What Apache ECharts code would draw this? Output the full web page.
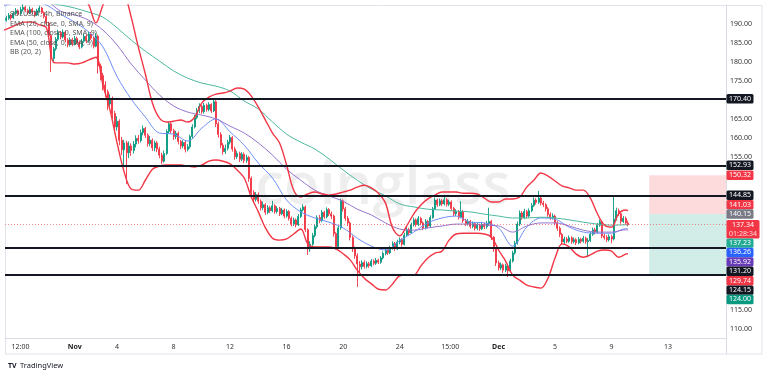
<!DOCTYPE html>
<html><head><meta charset="utf-8">
<script src="https://cdn.jsdelivr.net/npm/echarts@6/dist/echarts.min.js"></script>
<style>html,body{margin:0;padding:0;background:#fff}#c{width:768px;height:374px}</style>
</head><body><div id="c"></div>
<script>
// ---------------- DATA ----------------
const legendLines = ['SOLUSDT, 4h, Binance','EMA (20, close, 0, SMA, 9)','EMA (100, close, 0, SMA, 9)','EMA (50, close, 0, SMA, 9)','BB (20, 2)'];
// 4h bars, bar 0 = Nov 1 00:00
const firstBar = -29;
const lastBar = 235;
// [open, close, low, high]
const candles = [
[191.0,191.5,190.6,192.2],[191.5,192.3,191.1,192.9],[192.3,191.6,191.0,192.7],[191.6,192.8,191.3,193.4],[192.8,193.5,192.4,194.2],
[193.5,192.7,192.2,193.9],[192.7,193.8,192.5,194.5],[193.8,194.4,193.3,195.2],[194.4,193.6,193.1,194.8],[193.6,192.9,192.4,194.0],
[192.9,193.9,192.6,194.6],[193.9,193.1,192.7,194.3],[193.1,192.4,191.8,193.5],[192.4,193.5,192.1,194.0],[193.5,194.2,193.0,194.8],
[194.2,193.0,192.6,194.5],[193.0,192.0,191.5,193.3],[192.0,190.2,189.6,192.4],[190.2,187.0,186.4,190.6],[187.0,181.0,177.4,187.4],
[181.0,183.5,180.2,184.0],[183.5,186.0,183.0,186.6],[186.0,187.8,185.5,188.5],[187.8,186.6,186.0,188.2],[186.6,187.9,186.2,188.6],
[187.9,185.8,185.2,188.2],[185.8,184.6,183.9,186.3],[184.6,185.9,184.1,186.5],[185.9,184.8,184.2,186.4],[184.8,186.2,184.4,186.9],
[186.2,185.2,184.7,186.7],[185.2,184.0,183.4,185.7],[184.0,185.5,183.6,186.1],[185.5,186.8,185.1,187.5],[186.8,185.6,185.0,187.2],
[185.6,187.4,185.2,188.0],[187.4,186.3,185.8,187.9],[186.3,184.2,183.6,186.7],[184.2,186.8,183.9,187.6],[186.8,179.0,177.0,187.2],
[179.0,176.5,175.2,179.6],[176.5,174.0,172.6,177.2],[174.0,172.2,170.8,175.0],[172.2,169.0,167.4,172.8],[169.0,170.5,168.2,171.6],
[170.5,166.5,165.0,171.0],[166.5,163.0,161.5,167.2],[163.0,164.5,162.0,165.8],[164.5,159.5,158.2,165.0],[159.5,157.0,155.6,160.4],
[157.0,158.8,153.0,159.6],[158.8,156.2,148.0,159.4],[156.2,158.0,154.8,159.2],[158.0,156.8,155.4,158.7],[156.8,158.5,156.0,159.3],
[158.5,160.0,157.6,160.8],[160.0,159.4,158.6,160.9],[159.4,161.5,158.9,162.3],[161.5,162.6,160.8,163.4],[162.6,160.8,160.1,163.0],
[160.8,158.6,157.8,161.3],[158.6,159.5,157.9,160.6],[159.5,157.5,156.7,160.0],[157.5,158.8,156.6,159.4],[158.8,157.2,156.4,159.3],
[157.2,155.6,154.8,157.8],[155.6,154.0,153.2,156.2],[154.0,156.0,153.6,156.8],[156.0,161.8,155.6,162.4],[161.8,163.8,161.2,164.4],
[163.8,162.0,161.4,164.2],[162.0,160.5,159.6,162.5],[160.5,161.3,159.8,162.0],[161.3,159.2,158.4,161.8],[159.2,158.0,157.2,159.6],
[158.0,158.9,157.4,159.5],[158.9,157.1,156.3,159.3],[157.1,157.8,156.6,158.5],[157.8,160.5,157.3,161.0],[160.5,163.0,160.0,163.7],
[163.0,165.5,162.6,166.2],[165.5,167.3,165.0,168.0],[167.3,168.4,166.6,169.2],[168.4,167.0,166.4,168.8],[167.0,168.7,166.5,169.3],
[168.7,167.6,167.0,169.1],[167.6,168.9,167.1,169.5],[168.9,167.2,166.7,169.2],[167.2,169.6,166.9,170.3],[169.6,163.8,163.0,170.0],
[163.8,161.0,160.2,164.4],[161.0,158.2,157.4,161.6],[158.2,156.5,155.7,158.8],[156.5,157.4,155.9,158.4],[157.4,159.0,156.8,159.6],
[159.0,160.2,158.4,160.9],[160.2,157.2,156.5,160.6],[157.2,155.2,154.4,157.8],[155.2,156.0,154.6,156.7],[156.0,154.5,153.8,156.5],
[154.5,155.8,154.0,156.4],[155.8,154.2,153.5,156.3],[154.2,155.0,153.6,155.7],[155.0,149.5,148.6,155.4],[149.5,145.8,144.9,150.0],
[145.8,144.0,143.2,146.4],[144.0,145.2,143.4,145.9],[145.2,143.5,142.8,145.8],[143.5,141.8,141.0,144.0],[141.8,142.6,141.2,143.4],
[142.6,140.6,139.9,143.0],[140.6,141.8,140.1,142.5],[141.8,141.0,140.4,142.3],[141.0,142.3,140.6,143.6],[142.3,140.8,140.2,142.7],
[140.8,141.6,140.3,142.2],[141.6,140.2,139.6,142.0],[140.2,141.2,139.8,141.8],[141.2,139.6,139.0,141.6],[139.6,140.8,139.2,141.4],
[140.8,139.0,138.4,141.2],[139.0,137.5,136.9,139.5],[137.5,138.6,137.0,139.2],[138.6,137.3,136.6,139.0],[137.3,139.5,137.0,140.1],
[139.5,141.2,139.1,141.8],[141.2,142.0,140.8,142.7],[142.0,136.0,135.4,142.4],[136.0,131.0,129.4,136.4],[131.0,132.2,130.2,133.0],
[132.2,134.5,131.8,135.2],[134.5,136.8,134.0,137.4],[136.8,139.2,136.3,139.8],[139.2,138.4,137.7,139.9],[138.4,140.6,138.0,141.2],
[140.6,139.4,138.9,141.0],[139.4,141.3,139.0,141.9],[141.3,140.2,139.6,141.7],[140.2,139.6,138.8,140.8],[139.6,135.0,134.2,140.0],
[135.0,131.6,130.8,135.4],[131.6,136.5,131.2,137.0],[136.5,143.6,136.0,144.2],[143.6,141.5,140.8,144.0],[141.5,139.0,138.3,142.0],
[139.0,137.8,137.0,139.6],[137.8,134.0,133.2,138.2],[134.0,131.0,130.2,134.5],[131.0,129.2,128.4,131.6],[129.2,127.0,121.0,129.8],
[127.0,126.3,124.8,127.8],[126.3,127.4,125.6,128.0],[127.4,126.4,125.8,128.0],[126.4,127.1,125.9,127.7],[127.1,126.6,126.0,127.6],
[126.6,127.8,126.2,128.3],[127.8,127.2,126.7,128.2],[127.2,128.0,126.8,128.6],[128.0,127.5,127.0,128.4],[127.5,128.6,127.1,129.1],
[128.6,129.8,128.2,130.3],[129.8,130.6,129.3,131.2],[130.6,130.0,129.4,131.0],[130.0,131.2,129.6,131.8],[131.2,132.4,130.8,133.0],
[132.4,131.0,130.4,132.8],[131.0,132.8,130.7,133.4],[132.8,133.4,132.2,134.0],[133.4,132.2,131.6,133.8],[132.2,134.6,131.9,135.2],
[134.6,136.0,134.2,136.7],[136.0,135.2,134.6,136.5],[135.2,137.3,134.9,137.9],[137.3,138.6,136.9,139.2],[138.6,137.4,136.8,139.0],
[137.4,139.0,137.0,139.6],[139.0,137.8,137.2,139.4],[137.8,136.5,135.9,138.2],[136.5,138.2,136.1,138.8],[138.2,137.0,136.4,138.6],
[137.0,139.2,136.7,139.8],[139.2,141.5,138.9,142.0],[141.5,143.8,141.2,144.5],[143.8,142.6,142.0,144.2],[142.6,143.6,142.2,144.2],
[143.6,142.8,142.2,144.1],[142.8,143.9,142.4,144.6],[143.9,142.7,142.1,144.3],[142.7,143.3,142.2,143.9],[143.3,141.6,141.0,143.7],
[141.6,140.2,139.5,142.0],[140.2,140.8,139.6,141.4],[140.8,139.3,138.7,141.2],[139.3,140.8,139.0,143.5],[140.8,138.4,137.8,141.2],
[138.4,137.6,137.0,138.9],[137.6,138.2,137.1,138.8],[138.2,136.9,136.3,138.6],[136.9,137.6,136.4,138.2],[137.6,136.4,135.8,138.0],
[136.4,137.2,135.9,137.8],[137.2,136.3,135.7,137.6],[136.3,137.4,135.9,138.0],[137.4,136.8,136.2,137.9],[136.8,137.6,136.3,138.3],
[137.6,138.2,137.1,141.8],[138.2,134.0,133.3,138.6],[134.0,131.0,130.2,134.4],[131.0,127.3,126.5,131.4],[127.3,126.0,125.3,127.9],
[126.0,126.8,125.4,127.4],[126.8,125.4,124.7,127.2],[125.4,126.5,124.9,127.1],[126.5,125.2,123.6,126.9],[125.2,127.8,124.9,128.4],
[127.8,129.9,127.4,130.5],[129.9,132.5,129.5,133.1],[132.5,137.5,132.1,138.2],[137.5,140.4,137.0,141.1],[140.4,139.2,138.6,140.9],
[139.2,140.8,138.8,141.5],[140.8,139.6,139.0,141.2],[139.6,141.0,139.2,141.6],[141.0,142.4,140.6,143.0],[142.4,143.8,142.0,144.5],
[143.8,143.2,142.6,144.3],[143.2,144.3,142.8,146.2],[144.3,143.0,142.4,144.8],[143.0,142.6,142.0,143.6],[142.6,141.5,140.8,143.0],
[141.5,140.0,139.4,142.0],[140.0,139.2,138.6,140.6],[139.2,139.6,138.7,140.3],[139.6,137.8,137.2,140.0],[137.8,136.4,135.7,138.3],
[136.4,134.8,134.1,136.9],[134.8,132.8,132.1,135.2],[132.8,133.6,132.3,134.2],[133.6,133.0,132.5,134.1],[133.0,133.9,132.6,134.5],
[133.9,132.9,132.3,134.3],[132.9,133.4,132.4,134.0],[133.4,132.6,132.0,133.8],[132.6,133.5,132.2,134.1],[133.5,133.0,132.4,133.9],
[133.0,133.8,132.6,134.4],[133.8,132.9,132.3,134.2],[132.9,133.2,128.8,133.8],[133.2,134.8,132.8,135.4],[134.8,136.0,134.4,136.6],
[136.0,135.4,134.8,136.5],[135.4,137.2,135.0,137.8],[137.2,138.1,136.8,138.7],[138.1,134.4,133.8,138.5],[134.4,134.0,133.4,135.0],
[134.0,133.4,132.8,134.6],[133.4,134.2,132.9,134.8],[134.2,133.6,132.5,134.7],[133.6,138.8,133.2,144.6],[138.8,141.0,138.4,141.8],
[141.0,140.2,139.6,141.6],[140.2,138.2,137.6,140.6],[138.2,139.0,137.8,139.6],[139.0,137.8,137.3,139.5],[137.8,137.34,136.9,138.4]
];
// indicators sampled every 24h from bar -30 (last value = current bar)
const emaFirstBar = -30, emaStep = 6;
const ema20 = [194.8,195.8,196.0,195.0,192.6,190.5,187.9,184.0,176.2,170.3,165.6,161.4,161.1,159.3,162.7,165.1,161.7,158.2,153.5,149.6,143.8,140.7,139.1,138.0,136.5,133.8,131.7,130.7,133.1,135.4,137.8,139.1,139.6,138.0,137.8,136.5,131.7,136.7,139.1,138.8,136.7,135.4,135.1,135.1,136.3,136.26];
const ema50 = [195.2,196.0,196.4,196.0,193.4,192.4,191.0,188.4,184.5,179.5,175.3,171.4,168.5,166.9,166.1,165.1,163.2,161.4,158.8,155.6,151.9,149.0,146.4,144.9,143.5,141.4,139.9,137.8,136.2,135.9,136.5,137.0,137.5,137.5,137.2,137.0,135.4,137.0,137.8,137.8,137.0,135.9,135.4,135.4,136.0,135.92];
const ema100 = [198.3,197.3,196.3,195.5,195.0,194.2,193.1,191.8,189.0,185.8,182.9,180.3,177.7,175.8,174.5,173.7,172.4,169.8,167.7,164.3,161.1,159.0,157.2,154.6,151.7,149.0,146.7,144.9,142.8,142.0,141.4,141.2,140.9,140.7,140.1,139.6,139.1,139.1,139.3,139.1,138.6,138.0,137.5,137.2,137.3,137.23];
// Bollinger bands sampled every 12h from bar -30 (last value = current bar)
const bbFirstBar = -30, bbStep = 3;
const bbUpper = [200.0,200.5,201.0,201.0,200.5,200.0,199.5,199.0,198.5,198.2,
198.0,197.5,195.0,190.3,195.0,199.0,201.0,198.4,191.8,184.0,
176.9,169.3,165.3,164.3,164.5,164.8,164.3,165.6,169.3,170.8,
171.6,171.9,172.4,173.2,172.9,171.1,168.2,164.8,161.4,158.8,
153.0,146.4,144.6,145.4,145.9,145.4,145.1,145.4,145.9,146.4,
147.2,147.7,147.0,145.6,143.0,136.5,134.4,137.0,140.2,142.5,
144.1,145.1,145.9,145.9,145.9,145.6,145.6,145.4,144.3,143.3,
143.3,144.1,144.1,144.6,147.2,149.0,150.9,150.1,148.8,147.5,
147.0,146.4,146.4,144.3,140.2,137.2,136.7,140.2,141.2,141.03];
const bbLower = [188.4,189.2,190.0,190.5,190.5,189.8,189.0,180.0,179.8,179.8,
179.5,179.8,180.6,181.3,174.0,167.4,158.8,151.2,146.7,146.4,
149.0,151.9,152.7,153.0,153.0,153.0,152.7,152.5,153.0,154.0,
154.3,154.0,153.3,151.7,149.6,144.6,140.7,136.5,133.8,133.3,
133.6,134.9,136.2,132.3,131.5,131.5,131.5,131.0,129.7,128.1,
125.4,123.3,121.8,120.4,120.2,121.8,123.9,124.1,124.1,126.5,
128.6,129.9,130.4,133.3,134.9,135.1,135.1,135.1,134.9,134.1,
130.7,127.8,124.1,122.8,121.5,121.0,120.7,123.3,128.6,132.3,
131.5,129.6,128.8,129.4,130.4,130.7,130.4,128.8,129.6,129.74];
const levelLines = [170.40, 152.93, 144.85, 131.20, 124.15];
const positionStop = 150.32, positionEntry = 140.15, positionTarget = 124.00, positionStartBar = 244;
const lastClose = 137.34;
const countdown = '01:28:34';
const xTickBars = [-23, 0, 18, 42, 66, 90, 114, 138, 159.5, 180, 204, 228, 252];
const xTickLabels = ['12:00', 'Nov', '4', '8', '12', '16', '20', '24', '15:00', 'Dec', '5', '9', '13'];
const monthLabels = ['Nov', 'Dec'];
const yTickValues = [110, 115, 155, 160, 165, 175, 180, 185, 190];

// ---------------- CHART ----------------
const FONT = '"Noto Sans", "Open Sans", sans-serif';
const xMin = -29.6, xMax = 276.6;
const UP = '#089981', DOWN = '#f23645';
const chart = echarts.init(document.getElementById('c'));
const candleData = candles.map((c, i) => [firstBar + i, c[0], c[1], c[2], c[3]]);
function sampled(vals, first, step) {
  return vals.map((v, i) => [i === vals.length - 1 ? lastBar : first + step * i, v]);
}
function lineSeries(name, vals, first, step, color, width) {
  return { name, type: 'line', data: sampled(vals, first, step), showSymbol: false, smooth: 0.35,
    lineStyle: { color, width }, itemStyle: { color }, z: 4, silent: true };
}
const option = {
  animation: false,
  textStyle: { fontFamily: FONT },
  title: { text: legendLines.join('\n'), left: 10, top: 9.6, padding: 0,
    textStyle: { fontSize: 7, fontWeight: 'normal', color: '#555', lineHeight: 9.4, fontFamily: FONT } },
  grid: { left: 5, right: 42, top: 5, bottom: 36, containLabel: false },
  xAxis: { type: 'value', min: xMin, max: xMax,
    axisLine: { show: true, onZero: false, lineStyle: { color: '#d9dce3' } },
    axisTick: { show: false }, splitLine: { show: false },
    axisLabel: { customValues: xTickBars, margin: 5, fontSize: 7, color: '#333', fontFamily: FONT,
      formatter: v => { let i = xTickBars.findIndex(b => Math.abs(b - v) < 1e-6); const t = i >= 0 ? xTickLabels[i] : '';
        return monthLabels.includes(t) ? '{b|' + t + '}' : t; },
      rich: { b: { fontWeight: 'bold', fontSize: 7, color: '#222', fontFamily: FONT } } } },
  yAxis: { type: 'value', position: 'right', min: 107.6, max: 195.0, scale: true,
    axisLine: { show: true, onZero: false, lineStyle: { color: '#d9dce3' } },
    axisTick: { show: false }, splitLine: { show: false },
    axisLabel: { customValues: yTickValues, margin: 4, fontSize: 7, color: '#333', fontFamily: FONT,
      formatter: v => v.toFixed(2) } },
  series: [
    { name: 'SOLUSDT', type: 'candlestick', data: candleData, encode: { x: 0, y: [1, 2, 3, 4] },
      barWidth: 1.5, z: 3, silent: true,
      itemStyle: { color: UP, color0: DOWN, borderColor: UP, borderColor0: DOWN, borderWidth: 0.9 },
      markLine: { silent: true, symbol: ['none', 'none'], label: { show: false }, animation: false,
        data: levelLines.map(v => ({ yAxis: v, lineStyle: { color: '#131722', width: 2, type: 'solid' } }))
          .concat([{ yAxis: lastClose, lineStyle: { color: '#f23645', width: 1, type: [1, 2], opacity: 0.55 } }]) },
      markArea: { silent: true, label: { show: false },
        data: [
          [{ xAxis: positionStartBar, yAxis: positionStop, itemStyle: { color: 'rgba(242,54,69,0.18)' } }, { xAxis: xMax, yAxis: positionEntry }],
          [{ xAxis: positionStartBar, yAxis: positionEntry, itemStyle: { color: 'rgba(8,153,129,0.18)' } }, { xAxis: xMax, yAxis: positionTarget }]
        ] } },
    lineSeries('EMA 20', ema20, emaFirstBar, emaStep, '#6d8ff7', 1),
    lineSeries('EMA 100', ema100, emaFirstBar, emaStep, '#4cb89d', 1),
    lineSeries('EMA 50', ema50, emaFirstBar, emaStep, '#9575cd', 1),
    lineSeries('BB upper', bbUpper, bbFirstBar, bbStep, '#f23645', 1.4),
    lineSeries('BB lower', bbLower, bbFirstBar, bbStep, '#f23645', 1.4)
  ]
};
chart.setOption(option);

// price tags on the right scale, stacked around the current-price tag
const tags = [
  ...levelLines.map(v => ({ v, color: '#131722' })),
  { v: positionStop, color: '#f23645' },
  { v: bbUpper[bbUpper.length - 1], color: '#f23645' },
  { v: positionEntry, color: '#787b86' },
  { v: lastClose, color: '#f23645', sub: countdown, anchor: true },
  { v: ema100[ema100.length - 1], color: '#22ab94' },
  { v: ema20[ema20.length - 1], color: '#2962ff' },
  { v: ema50[ema50.length - 1], color: '#673ab7' },
  { v: bbLower[bbLower.length - 1], color: '#f23645' },
  { v: positionTarget, color: '#089981' }
].sort((a, b) => b.v - a.v);
const H = 9.4;
tags.forEach(t => { t.y = chart.convertToPixel({ yAxisIndex: 0 }, t.v); t.h = t.sub ? 18.4 : H; });
const ai = tags.findIndex(t => t.anchor);
tags[ai].top = tags[ai].y - H / 2;
for (let i = ai - 1; i >= 0; i--) { const c = Math.min(tags[i].y, tags[i + 1].top - H / 2); tags[i].top = c - H / 2; }
for (let i = ai + 1; i < tags.length; i++) { const p = tags[i - 1]; const c = Math.max(tags[i].y, p.top + p.h + H / 2); tags[i].top = c - H / 2; }

const axisX = chart.convertToPixel({ xAxisIndex: 0 }, xMax);
const gridBottom = chart.convertToPixel({ yAxisIndex: 0 }, 107.6);
const graphics = [
  { type: 'text', x: 383, y: 187, z: 0, silent: true,
    style: { text: 'coinglass', align: 'center', verticalAlign: 'middle', font: '600 58px "Open Sans", sans-serif', fill: 'rgba(0,0,0,0.065)' } },
  { type: 'rect', z: 0, silent: true, shape: { x: 5.5, y: 5.5, width: 756.5, height: 348.5 }, style: { fill: 'none', stroke: '#e0e3eb', lineWidth: 1 } },
  { type: 'line', z: 0, silent: true, shape: { x1: axisX + 0.5, y1: gridBottom, x2: axisX + 0.5, y2: 354 }, style: { stroke: '#d9dce3', lineWidth: 1 } },
  { type: 'text', x: 8, y: 366, silent: true, style: { text: 'TV', verticalAlign: 'middle', font: 'bold 7px ' + FONT, fill: '#131722' } },
  { type: 'text', x: 20, y: 366, silent: true, style: { text: 'TradingView', verticalAlign: 'middle', font: '7.5px ' + FONT, fill: '#131722' } }
];
tags.forEach(t => {
  const w = t.sub ? 33 : 27;
  graphics.push({ type: 'rect', z: 100, silent: true, shape: { x: axisX + 0.5, y: t.top, width: w, height: t.h, r: 1.5 }, style: { fill: t.color } });
  graphics.push({ type: 'text', z: 101, silent: true, x: axisX + 0.5 + w / 2, y: t.top + H / 2,
    style: { text: t.v.toFixed(2), align: 'center', verticalAlign: 'middle', font: '7px ' + FONT, fill: '#fff' } });
  if (t.sub) graphics.push({ type: 'text', z: 101, silent: true, x: axisX + 0.5 + w / 2, y: t.top + H / 2 + 9,
    style: { text: t.sub, align: 'center', verticalAlign: 'middle', font: '7px ' + FONT, fill: 'rgba(255,255,255,0.8)' } });
});
chart.setOption({ graphic: graphics });
</script></body></html>
